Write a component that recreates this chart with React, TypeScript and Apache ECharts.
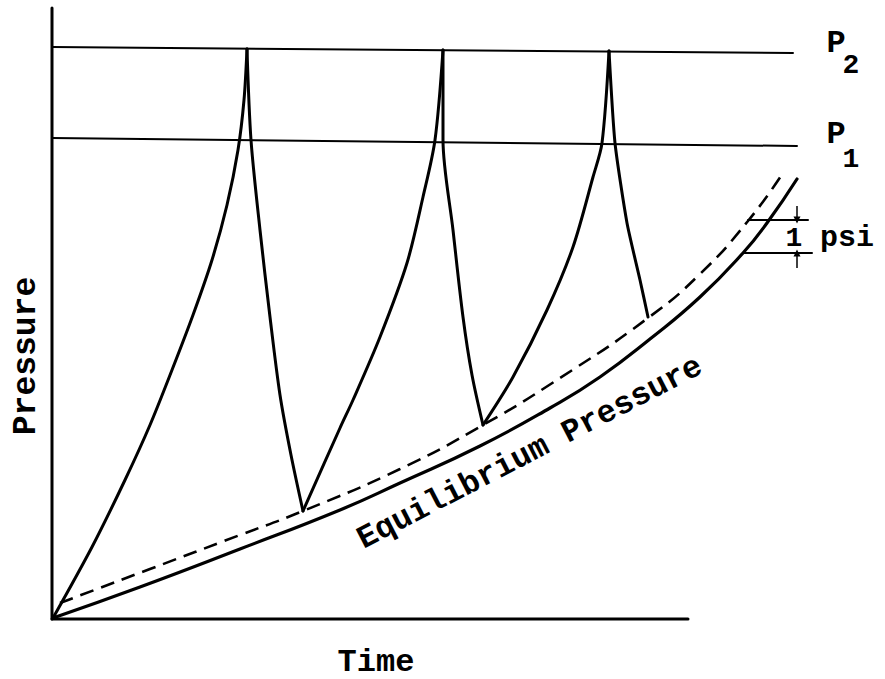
import React, { useEffect, useRef } from "react";
import * as echarts from "echarts";

// Data coordinates: x = time units, y = pressure units (arbitrary schematic scale)
const xAxisLine = [[0, 0], [636, 0]];
const yAxisLine = [[0, 0], [0, 611]];
const p2Line = [[0, 572], [741, 566]];
const p1Line = [[0, 481], [745, 473]];

const equilibrium = [
  [1, 1], [88, 32], [188, 70], [288, 109], [348, 136], [428, 173], [498, 211],
  [548, 242], [598, 280], [648, 322], [691, 366], [715, 396], [745, 440],
];
const offsetCurve = [
  [8, 16], [98, 50], [188, 84], [251, 108], [348, 150], [431, 194], [508, 241],
  [596, 301], [648, 345], [696, 398], [731, 446],
];

const rise1 = [[1, 1], [40, 72], [73, 139], [98, 194], [120, 249], [141, 304], [160, 359], [175, 414], [186, 469], [192, 519], [195, 570]];
const fall1 = [[195, 570], [199, 479], [208, 389], [218, 302], [228, 224], [239, 164], [251, 108]];
const rise2 = [[251, 108], [288, 191], [301, 219], [328, 282], [355, 356], [371, 422], [383, 479], [391, 569]];
const fall2 = [[391, 569], [391, 479], [401, 389], [411, 302], [420, 244], [431, 194]];
const rise3 = [[431, 194], [461, 242], [495, 309], [521, 372], [541, 442], [550, 476], [557, 568]];
const fall3 = [[557, 568], [563, 476], [575, 396], [588, 339], [596, 302]];

const psiUpper = [[696, 399], [756, 399]];
const psiLower = [[691, 366], [760, 366]];
const psiArrowTop = [[745, 413], [745, 399]];
const psiArrowBottom = [[745, 351], [745, 366]];

const FONT = "Liberation Mono";

export default function App() {
  const ref = useRef<HTMLDivElement>(null);
  useEffect(() => {
    if (!ref.current) return;
    const chart = echarts.init(ref.current, null, { renderer: "svg" });
    const solid = (name: string, data: number[][], width = 3, smooth: number | boolean = 0.3) => ({
      name,
      type: "line",
      data,
      smooth,
      symbol: "none",
      clip: false,
      silent: true,
      lineStyle: { color: "#000", width, cap: "round", join: "round" },
    });
    chart.setOption({
      animation: false,
      backgroundColor: "#fff",
      grid: { left: 52, top: 8, width: 800, height: 611 },
      xAxis: {
        type: "value", min: 0, max: 800,
        axisLine: { show: false }, axisTick: { show: false }, axisLabel: { show: false }, splitLine: { show: false },
      },
      yAxis: {
        type: "value", min: 0, max: 611,
        axisLine: { show: false }, axisTick: { show: false }, axisLabel: { show: false }, splitLine: { show: false },
      },
      series: [
        solid("xAxis", xAxisLine, 3, false),
        solid("yAxis", yAxisLine, 3, false),
        solid("P2", p2Line, 2, false),
        solid("P1", p1Line, 2, false),
        solid("Equilibrium Pressure", equilibrium, 3.2, 0.5),
        {
          name: "offset",
          type: "line",
          data: offsetCurve,
          smooth: 0.5,
          symbol: "none",
          clip: false,
          silent: true,
          lineStyle: { color: "#000", width: 2.6, type: [14, 8] },
        },
        solid("rise1", rise1),
        solid("fall1", fall1),
        solid("rise2", rise2),
        solid("fall2", fall2),
        solid("rise3", rise3),
        solid("fall3", fall3, 3, 0.2),
        solid("psiUpper", psiUpper, 2, false),
        solid("psiLower", psiLower, 2, false),
        {
          name: "arrows",
          type: "line",
          data: [],
          silent: true,
          markLine: {
            silent: true,
            symbol: ["none", "triangle"],
            symbolSize: [7, 7],
            label: { show: false },
            lineStyle: { color: "#000", width: 1.5, type: "solid" },
            data: [
              [{ coord: psiArrowTop[0] }, { coord: psiArrowTop[1] }],
              [{ coord: psiArrowBottom[0] }, { coord: psiArrowBottom[1] }],
            ],
          },
        },
      ],
      graphic: [
        { type: "text", x: 836, y: 43, style: { text: "P", font: `bold 32px "${FONT}"`, fill: "#000", align: "center", verticalAlign: "middle" } },
        { type: "text", x: 851, y: 65, style: { text: "2", font: `bold 28px "${FONT}"`, fill: "#000", align: "center", verticalAlign: "middle" } },
        { type: "text", x: 836, y: 134, style: { text: "P", font: `bold 32px "${FONT}"`, fill: "#000", align: "center", verticalAlign: "middle" } },
        { type: "text", x: 851, y: 159, style: { text: "1", font: `bold 28px "${FONT}"`, fill: "#000", align: "center", verticalAlign: "middle" } },
        { type: "text", x: 794, y: 238, style: { text: "1", font: `bold 28px "${FONT}"`, fill: "#000", align: "center", verticalAlign: "middle" } },
        { type: "text", x: 820, y: 238, style: { text: "psi", font: `bold 30px "${FONT}"`, fill: "#000", align: "left", verticalAlign: "middle" } },
        { type: "text", x: 376, y: 662, style: { text: "Time", font: `bold 32px "${FONT}"`, fill: "#000", align: "center", verticalAlign: "middle" } },
        { type: "text", x: 26, y: 356, rotation: Math.PI / 2, style: { text: "Pressure", font: `bold 33px "${FONT}"`, fill: "#000", align: "center", verticalAlign: "middle" } },
        { type: "text", x: 530, y: 453, rotation: (27.4 * Math.PI) / 180, style: { text: "Equilibrium Pressure", font: `bold 32px "${FONT}"`, fill: "#000", align: "center", verticalAlign: "middle" } },
      ],
    });
    return () => chart.dispose();
  }, []);
  return <div ref={ref} style={{ position: "fixed", left: 0, top: 0, width: 885, height: 679 }} />;
}
